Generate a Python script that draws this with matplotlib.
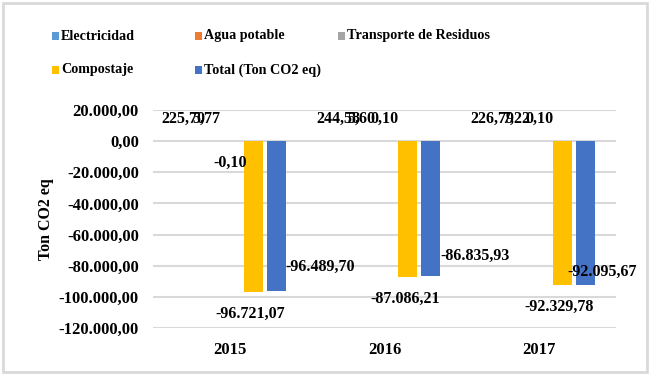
import matplotlib.pyplot as plt
import numpy as np
from matplotlib.patches import Rectangle

years = ['2015', '2016', '2017']
series = ['Electricidad', 'Agua potable', 'Transporte de Residuos', 'Compostaje', 'Total (Ton CO2 eq)']
electricidad = [225.70, 244.58, 226.79]
agua = [5.77, 5.60, 7.22]
transporte = [-0.10, 0.10, 0.10]
compostaje = [-96721.07, -87086.21, -92329.78]
total = [-96489.70, -86835.93, -92095.67]
colors = ['#5B9BD5', '#ED7D31', '#A5A5A5', '#FFC000', '#4472C4']

plt.rcParams['font.family'] = 'Liberation Serif'
plt.rcParams['font.weight'] = 'bold'


def fmt(v):
    s = f"{abs(v):,.2f}".replace(',', 'X').replace('.', ',').replace('X', '.')
    return ('-' if v < 0 else '') + s


fig = plt.figure(figsize=(6.5, 3.75), dpi=100)
ax = fig.add_axes([0.235, 0.1253, 0.713, 0.5814])
fig.patches.append(Rectangle((0.005, 0.008), 0.99, 0.984, transform=fig.transFigure,
                             fill=False, edgecolor='#D9D9D9', linewidth=2))

x = np.arange(len(years))
step = 0.15
width = 0.123
data = [electricidad, agua, transporte, compostaje, total]
bars = []
for i, (vals, name, c) in enumerate(zip(data, series, colors)):
    b = ax.bar(x + (i - 2) * step, vals, width, color=c, label=name, zorder=3)
    bars.append(b)

fs = 11.5
# etiquetas de datos (similar a Excel)
for k in range(3):
    for i in range(3):
        r = bars[i][k]
        v = data[i][k]
        cx = r.get_x() + r.get_width() / 2
        if v >= 0:
            ax.annotate(fmt(v), (cx, v), xytext=(0, 10), textcoords='offset points',
                        ha='center', va='bottom', fontsize=fs, fontweight='bold')
        else:
            ax.annotate(fmt(v), (cx, v), xytext=(0, -10), textcoords='offset points',
                        ha='center', va='top', fontsize=fs, fontweight='bold')
    r = bars[3][k]
    ax.annotate(fmt(compostaje[k]), (r.get_x() + r.get_width() / 2, compostaje[k]),
                xytext=(-2, -10), textcoords='offset points', ha='center', va='top',
                fontsize=fs, fontweight='bold')

tot_offsets = [(0, 18), (0, 15), (-20, 9)]
for k in range(3):
    r = bars[4][k]
    dx, dy = tot_offsets[k]
    ax.annotate(fmt(total[k]), (r.get_x() + r.get_width(), total[k]),
                xytext=(dx, dy), textcoords='offset points', ha='left', va='center',
                fontsize=fs, fontweight='bold')

yt = np.arange(-120000, 20001, 20000)
ax.set_ylim(-120000, 20000)
ax.set_xlim(-0.5, 2.5)
ax.set_yticks(yt)
ax.set_yticklabels([fmt(v) for v in yt], fontsize=12, fontweight='bold')
ax.set_xticks(x)
ax.set_xticklabels(years, fontsize=12, fontweight='bold')
ax.tick_params(axis='both', length=0)
ax.tick_params(axis='y', pad=10)
ax.tick_params(axis='x', pad=10)
ax.grid(axis='y', color='#D9D9D9', linewidth=1.5, zorder=0)
for s in ax.spines.values():
    s.set_visible(False)
ax.set_ylabel('Ton CO2 eq', fontsize=11.5, fontweight='bold', labelpad=3)

# leyenda en rejilla fija, como la de Excel
leg_x = [52, 195, 338, 52, 195]
leg_y = [36, 36, 36, 70, 70]
for name, c, lx, ly in zip(series, colors, leg_x, leg_y):
    fig.patches.append(Rectangle((lx / 650, 1 - (ly + 3.5) / 375), 7 / 650, 7 / 375,
                                 transform=fig.transFigure, facecolor=c, edgecolor='none'))
    fig.text((lx + 9) / 650, 1 - ly / 375, name, fontsize=10.2, fontweight='bold',
             ha='left', va='center')

fig.savefig('out.png', dpi=100)
